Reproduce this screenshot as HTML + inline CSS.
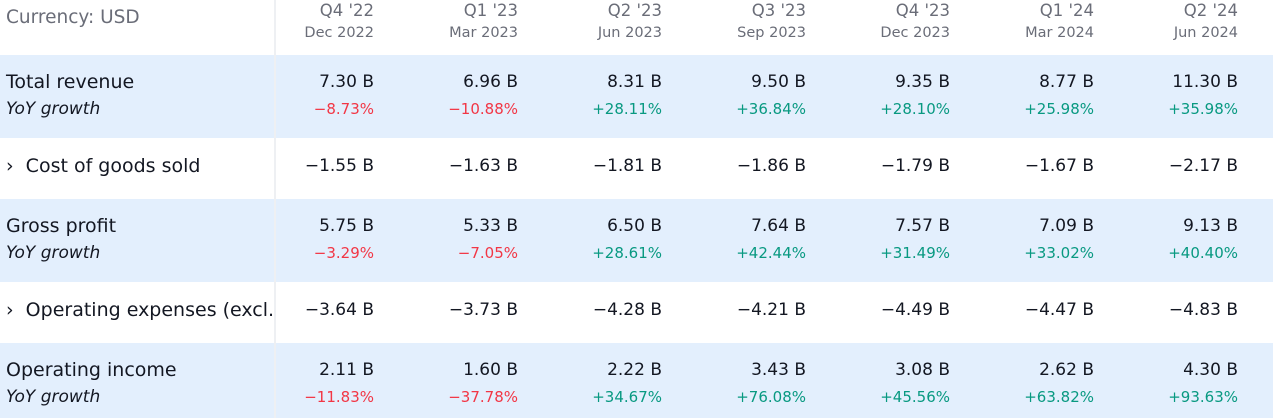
<!DOCTYPE html><html><head><style>
body{margin:0;width:1273px;height:418px;overflow:hidden;background:#fff;font-family:"DejaVu Sans","Liberation Sans",sans-serif;position:relative}
.b{position:absolute;left:0;width:1273px;background:#e3effd}
.t{position:absolute;white-space:nowrap}
.r{position:absolute;white-space:nowrap;text-align:right;width:140px}
.sep{position:absolute;left:274px;top:0;width:2px;height:418px;background:#eef0f3}
.h1{font-size:16.5px;color:#6a6d78}.h2{font-size:14.5px;color:#6a6d78}
.m{font-size:17px;color:#131722}.lm{font-size:19px;color:#131722}.y{font-size:17px;font-style:italic;color:#131722}
.red{color:#f23645;font-size:15px}.grn{color:#089981;font-size:15px}
</style></head><body>
<div class="b" style="top:55px;height:83px"></div>
<div class="b" style="top:199px;height:83px"></div>
<div class="b" style="top:343px;height:75px"></div>
<div class="sep"></div>
<div class="t" style="left:6px;top:7px;font-size:18.5px;color:#6a6d78">Currency: USD</div>
<div class="t lm" style="left:6px;top:71px">Total revenue</div>
<div class="t y" style="left:6px;top:99px">YoY growth</div>
<div class="t lm" style="left:6px;top:155px">›&nbsp; Cost of goods sold</div>
<div class="t lm" style="left:6px;top:215px">Gross profit</div>
<div class="t y" style="left:6px;top:243px">YoY growth</div>
<div class="t lm" style="left:6px;top:299px">›&nbsp; Operating expenses (excl.</div>
<div class="t lm" style="left:6px;top:359px">Operating income</div>
<div class="t y" style="left:6px;top:387px">YoY growth</div>
<div id="c"></div>
<script>
var q=[["Q4 '22","Dec 2022"],["Q1 '23","Mar 2023"],["Q2 '23","Jun 2023"],["Q3 '23","Sep 2023"],["Q4 '23","Dec 2023"],["Q1 '24","Mar 2024"],["Q2 '24","Jun 2024"]];
var rows=[[72,"m",["7.30 B","6.96 B","8.31 B","9.50 B","9.35 B","8.77 B","11.30 B"]],
[100,"g",["−8.73%","−10.88%","+28.11%","+36.84%","+28.10%","+25.98%","+35.98%"]],
[156,"m",["−1.55 B","−1.63 B","−1.81 B","−1.86 B","−1.79 B","−1.67 B","−2.17 B"]],
[216,"m",["5.75 B","5.33 B","6.50 B","7.64 B","7.57 B","7.09 B","9.13 B"]],
[244,"g",["−3.29%","−7.05%","+28.61%","+42.44%","+31.49%","+33.02%","+40.40%"]],
[300,"m",["−3.64 B","−3.73 B","−4.28 B","−4.21 B","−4.49 B","−4.47 B","−4.83 B"]],
[360,"m",["2.11 B","1.60 B","2.22 B","3.43 B","3.08 B","2.62 B","4.30 B"]],
[388,"g",["−11.83%","−37.78%","+34.67%","+76.08%","+45.56%","+63.82%","+93.63%"]]];
var h="";
for(var i=0;i<7;i++){var x=374+144*i-140;
h+='<div class="r h1" style="left:'+x+'px;top:1px">'+q[i][0]+'</div><div class="r h2" style="left:'+x+'px;top:25px">'+q[i][1]+'</div>';
rows.forEach(function(r){var v=r[2][i],c=r[1]=="m"?"m":(v[0]=="+"?"grn":"red");
h+='<div class="r '+c+'" style="left:'+x+'px;top:'+r[0]+'px">'+v+'</div>';});}
document.getElementById("c").innerHTML=h;
</script></body></html>
